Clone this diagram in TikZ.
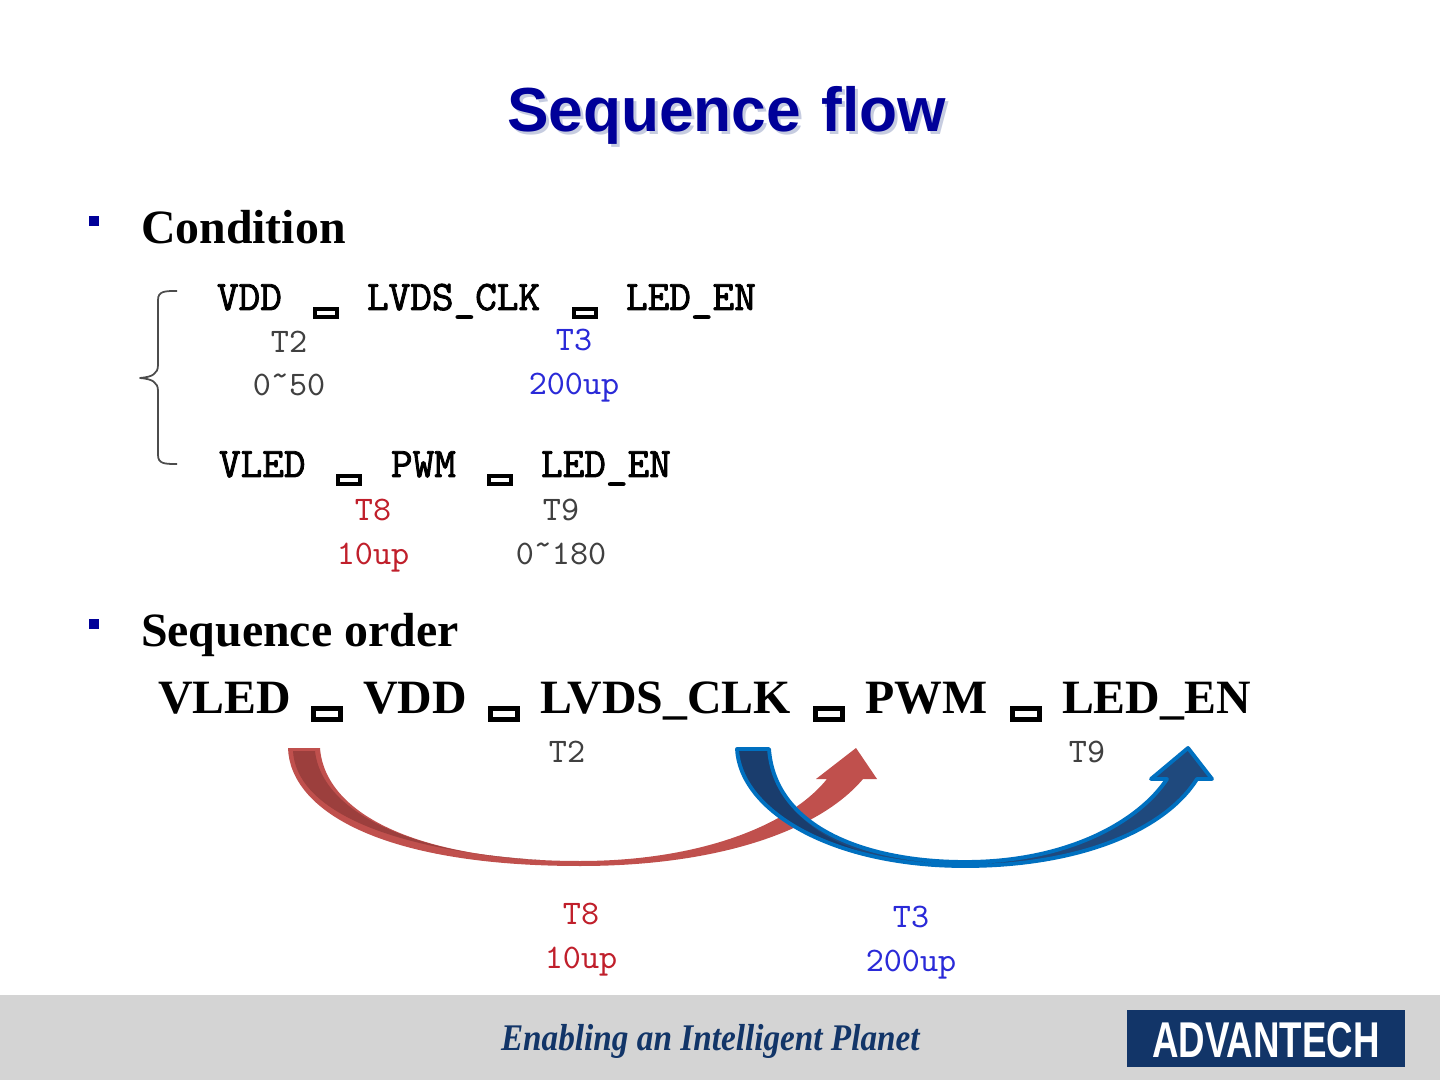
\documentclass[tikz,border=0pt]{standalone}
\usepackage{xcolor}
\usepackage{fontspec}
\setmainfont{Liberation Serif}
\setsansfont{Liberation Sans}
\newfontfamily\signalFont[FakeBold=2]{Latin Modern Mono}
\newfontfamily\timeFont{Latin Modern Mono}
\usetikzlibrary{arrows.meta,calc}
\definecolor{baslikMavi}{HTML}{000099}
\definecolor{golgeMavi}{HTML}{C6CCE0}
\definecolor{kirmizi}{HTML}{C0504D}
\definecolor{koyuKirmizi}{HTML}{9C3F3D}
\definecolor{yaziKirmizi}{HTML}{C01F2B}
\definecolor{yaziMavi}{HTML}{2A2AD8}
\definecolor{okMavi}{HTML}{1F497D}
\definecolor{koyuMavi}{HTML}{1A3D6D}
\definecolor{kenarMavi}{HTML}{0070C0}
\definecolor{bantGri}{HTML}{D4D4D4}
\definecolor{logoMavi}{HTML}{123568}
\newcommand{\highTilde}{\raisebox{0.28em}{\textasciitilde}}
\tikzset{
  pxtext/.style={anchor=base west,inner sep=0pt,outer sep=0pt},
  titlenode/.style={pxtext,font=\sffamily\bfseries\fontsize{17.7}{20}\selectfont},
  headnode/.style={pxtext,font=\bfseries\fontsize{13.6}{16}\selectfont},
  signalnode/.style={pxtext,font=\signalFont\fontsize{11.95}{14}\selectfont},
  timenode/.style={anchor=base,inner sep=0pt,outer sep=0pt,text=black!75,font=\timeFont\fontsize{9.8}{12}\selectfont},
  bulletnode/.style={fill=baslikMavi,inner sep=0pt,minimum size=2.7pt},
  smallbox/.style={draw=black,fill=white,line width=1.1pt,inner sep=0pt,minimum width=6.3pt,minimum height=2.3pt},
  bigbox/.style={draw=black,fill=white,line width=1.3pt,inner sep=0pt,minimum width=7.8pt,minimum height=3pt},
}
\begin{document}
\begin{tikzpicture}[x=0.01cm,y=-0.01cm]
\useasboundingbox (0,0) rectangle (1440,1080);
\fill[white] (0,0) rectangle (1440,1080);
\fill[bantGri] (0,995) rectangle (1440,1080);
% title
\node[titlenode,text=golgeMavi] (titleShadow) at (510,135) {Sequence\hspace{1pt} flow};
\node[titlenode,text=baslikMavi] (title) at (507,132) {Sequence\hspace{1pt} flow};
% condition block
\node[bulletnode] (bulletA) at (94,221) {};
\node[headnode] (condition) at (141,244) {Condition};
\draw[black!70,line width=0.5pt,line join=round] (177,291) .. controls (165,291) and (158,291) .. (158,300)
  -- (158,365) .. controls (158,374) and (152,377) .. (140,378)
  .. controls (152,379) and (158,382) .. (158,391) -- (158,455)
  .. controls (158,464) and (165,464) .. (177,464);
\node[signalnode] (vddA) at (217,310) {VDD};
\node[smallbox] (boxA) at (326,313) {};
\node[signalnode] (clkA) at (367,310) {LVDS\_CLK};
\node[smallbox] (boxB) at (585,313) {};
\node[signalnode] (enA) at (626,310) {LED\_EN};
\node[timenode] (tTwoA) at (289,353) {T2};
\node[timenode] (tTwoValA) at (289,396) {0\highTilde50};
\node[timenode,text=yaziMavi] (tThreeA) at (574,351) {T3};
\node[timenode,text=yaziMavi] (tThreeValA) at (574,395) {200up};
\node[signalnode] (vledB) at (219,477) {VLED};
\node[smallbox] (boxC) at (349,480) {};
\node[signalnode] (pwmB) at (391,477) {PWM};
\node[smallbox] (boxD) at (500,480) {};
\node[signalnode] (enB) at (541,477) {LED\_EN};
\node[timenode,text=yaziKirmizi] (tEightA) at (373,521) {T8};
\node[timenode,text=yaziKirmizi] (tEightValA) at (373,565) {10up};
\node[timenode] (tNineA) at (561,521) {T9};
\node[timenode] (tNineValA) at (561,565) {0\highTilde180};
% sequence order
\node[bulletnode] (bulletB) at (94,624) {};
\node[headnode] (order) at (141,647) {Sequence order};
\node[headnode] (vled) at (158,714) {VLED};
\node[bigbox] (boxE) at (327,714) {};
\node[headnode] (vdd) at (363,714) {VDD};
\node[bigbox] (boxF) at (504,714) {};
\node[headnode] (clk) at (540,714) {LVDS\_CLK};
\node[bigbox] (boxG) at (829,714) {};
\node[headnode] (pwm) at (865,714) {PWM};
\node[bigbox] (boxH) at (1026,714) {};
\node[headnode] (en) at (1062,714) {LED\_EN};
\node[timenode] (tTwoB) at (567,762) {T2};
\node[timenode] (tNineB) at (1087,762) {T9};
% red arrow
\fill[kirmizi] (288,748) .. controls (290,810) and (380,866) .. (580,866)
  .. controls (720,866) and (820,830) .. (863,779) -- (877,779) -- (856,748) -- (816,779) -- (827,779)
  .. controls (790,825) and (700,861) .. (580,861)
  .. controls (420,861) and (325,815) .. (320,748) -- cycle;
\fill[koyuKirmizi] (293,751) .. controls (296,808) and (385,850) .. (540,860)
  .. controls (420,855) and (322,815) .. (315,751) -- cycle;
% blue arrow
\fill[okMavi] (737,749) .. controls (740,810) and (830,866) .. (965,866)
  .. controls (1080,866) and (1165,830) .. (1197,779) -- (1212,779) -- (1188,748) -- (1151,779) -- (1167,779)
  .. controls (1140,820) and (1070,862) .. (965,862)
  .. controls (870,862) and (775,830) .. (769,749) -- cycle;
\fill[koyuMavi] (737,749) .. controls (740,810) and (830,860) .. (920,864)
  .. controls (860,858) and (775,830) .. (769,749) -- cycle;
\draw[kenarMavi,line width=1.1pt,line join=round] (737,749) .. controls (740,810) and (830,866) .. (965,866)
  .. controls (1080,866) and (1165,830) .. (1197,779) -- (1212,779) -- (1188,748) -- (1151,779) -- (1167,779)
  .. controls (1140,820) and (1070,862) .. (965,862)
  .. controls (870,862) and (775,830) .. (769,749) -- cycle;
\node[timenode,text=yaziKirmizi] (tEightB) at (581,924) {T8};
\node[timenode,text=yaziKirmizi] (tEightValB) at (581,968) {10up};
\node[timenode,text=yaziMavi] (tThreeB) at (911,927) {T3};
\node[timenode,text=yaziMavi] (tThreeValB) at (911,971) {200up};
% footer
\node[pxtext,text=logoMavi,font=\bfseries\itshape\fontsize{10.7}{12}\selectfont] (slogan) at (501,1050) {\scalebox{0.884}[1]{Enabling an Intelligent Planet}};
\node[fill=logoMavi,inner sep=0pt,minimum width=278*0.01cm,minimum height=57*0.01cm,anchor=north west] (logo) at (1126,1009) {};
\node[text=white,inner sep=0pt,font=\sffamily\bfseries\fontsize{14.3}{16}\selectfont] (logoText) at (1266,1040) {\scalebox{0.73}[1]{ADVANTECH}};
\end{tikzpicture}
\end{document}
